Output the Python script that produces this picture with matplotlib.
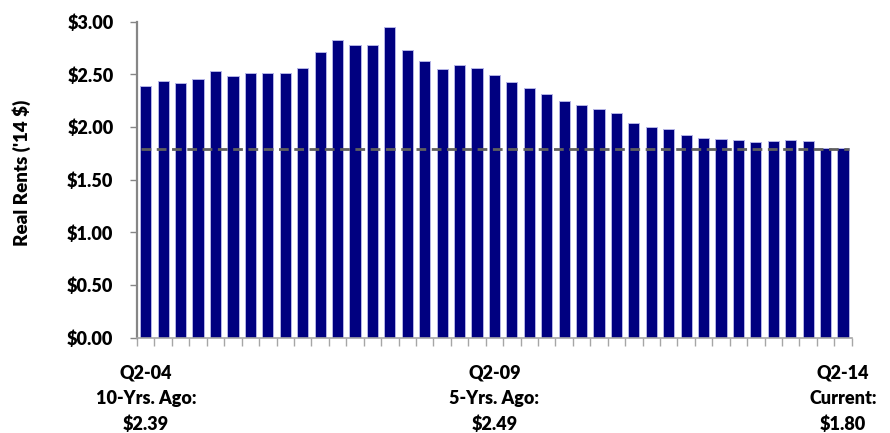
import matplotlib
matplotlib.use("Agg")
import matplotlib.pyplot as plt
import numpy as np

# Real rents per quarter, Q2-04 .. Q2-14 (2014 dollars)
quarters = ["Q2-04", "Q3-04", "Q4-04", "Q1-05", "Q2-05", "Q3-05", "Q4-05", "Q1-06",
            "Q2-06", "Q3-06", "Q4-06", "Q1-07", "Q2-07", "Q3-07", "Q4-07", "Q1-08",
            "Q2-08", "Q3-08", "Q4-08", "Q1-09", "Q2-09", "Q3-09", "Q4-09", "Q1-10",
            "Q2-10", "Q3-10", "Q4-10", "Q1-11", "Q2-11", "Q3-11", "Q4-11", "Q1-12",
            "Q2-12", "Q3-12", "Q4-12", "Q1-13", "Q2-13", "Q3-13", "Q4-13", "Q1-14",
            "Q2-14"]
rents = [2.39, 2.44, 2.42, 2.46, 2.53, 2.48, 2.51, 2.51, 2.51, 2.56,
         2.71, 2.83, 2.78, 2.78, 2.95, 2.73, 2.63, 2.55, 2.59, 2.56,
         2.49, 2.43, 2.37, 2.31, 2.25, 2.21, 2.17, 2.13, 2.04, 2.00,
         1.98, 1.92, 1.90, 1.89, 1.88, 1.86, 1.87, 1.88, 1.87, 1.80,
         1.80]
ref_level = 1.79

label_idx = [0, 20, 40]
label_notes = ["10-Yrs. Ago:", "5-Yrs. Ago:", "Current:"]

plt.rcParams['font.family'] = ['Lato', 'DejaVu Sans']

fig = plt.figure(figsize=(8.9, 4.33), dpi=100)
ax = fig.add_axes([0.154, 0.22, 0.803, 0.73])

x = np.arange(len(rents))
ax.bar(x, rents, width=0.64, color="#000080", edgecolor="#B4B4E6", linewidth=0.7, zorder=2)

# dashed reference line at current level
ax.plot([-0.25, len(rents) - 0.67], [ref_level, ref_level], color="#5F5F5F",
        linestyle=(0, (3.5, 2)), linewidth=2.0, zorder=3)

ax.set_xlim(-0.5, len(rents) - 0.5)
ax.set_ylim(0, 3.0)

yt = np.arange(0, 3.01, 0.5)
ax.set_yticks(yt)
ax.set_yticklabels(["${:.2f}".format(v) for v in yt], fontsize=13, fontweight="heavy")
ax.tick_params(axis="y", direction="out", length=5, width=1, color="#868686", pad=12)

labs = [quarters[i] + "\n" + n + "\n" + "${:.2f}".format(rents[i]) for i, n in zip(label_idx, label_notes)]
ax.set_xticks(label_idx)
ax.set_xticklabels(labs, fontsize=13, fontweight="heavy")
for t in ax.get_xticklabels():
    t.set_linespacing(1.6)
ax.set_xticks(np.arange(-0.5, len(rents), 1.0), minor=True)
ax.tick_params(axis="x", which="major", length=0, pad=19)
ax.tick_params(axis="x", which="minor", direction="out", length=6, width=1, color="#A6A6A6")

for s in ["top", "right"]:
    ax.spines[s].set_visible(False)
ax.spines["left"].set_color("#868686")
ax.spines["left"].set_linewidth(1.6)
ax.spines["bottom"].set_color("#A6A6A6")
ax.spines["bottom"].set_linewidth(1.2)

fig.text(0.024, 0.6, "Real Rents ('14 $)", rotation=90, fontsize=13.5, fontweight="heavy",
         ha="center", va="center")

fig.savefig("out.png", dpi=100)
